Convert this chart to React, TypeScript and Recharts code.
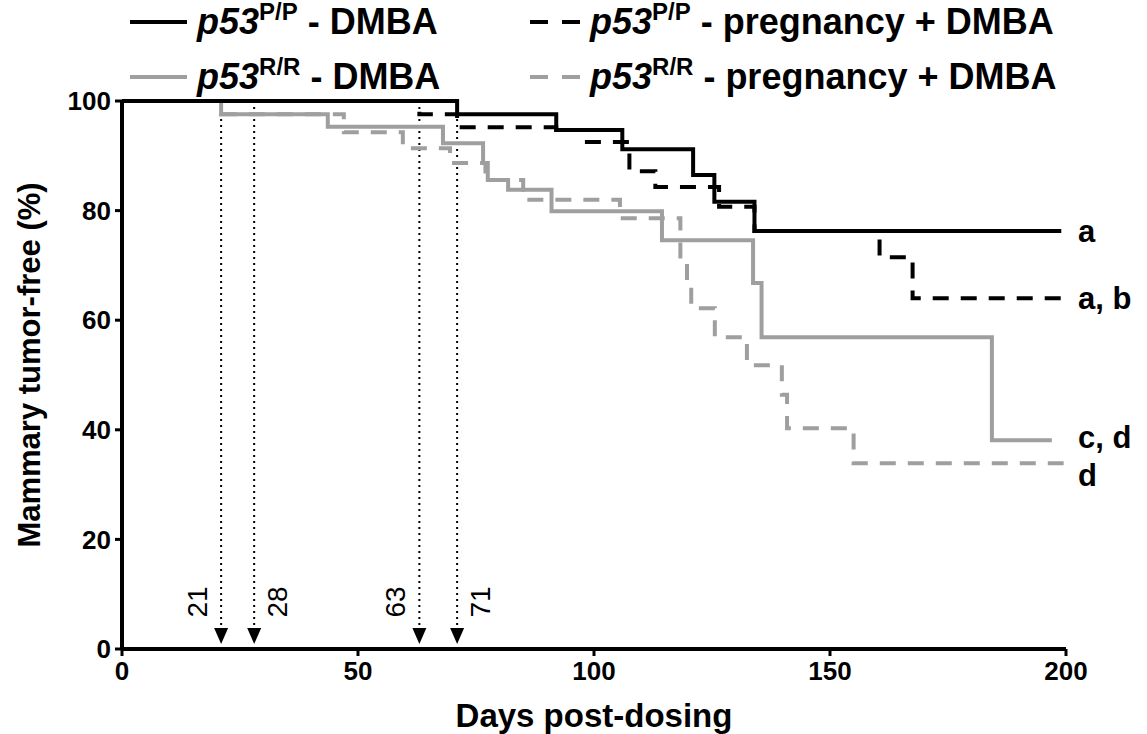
import { LineChart, Line, XAxis, YAxis, ReferenceLine, ReferenceDot, Label } from 'recharts'

// Kaplan-Meier steps (days post-dosing -> % tumor-free)
const PP_DMBA_DAYS = [0, 71, 92, 106, 121, 125.5, 134, 199]
const PP_DMBA_PCT = [100, 97.6, 94.7, 91.2, 86.5, 81.6, 76.3, 76.3]

const PP_PREG_DAYS = [0, 63, 71, 92, 98.5, 107.5, 113, 126.5, 134, 160.5, 167.5, 199]
const PP_PREG_PCT = [100, 97.6, 95.2, 94.7, 92.5, 87.2, 84.3, 80.7, 76.3, 71.5, 64.0, 64.0]

const RR_DMBA_DAYS = [0, 21, 43.6, 68, 76.5, 77.5, 81.8, 91, 114.4, 133.7, 135.5, 184.3, 197]
const RR_DMBA_PCT = [100, 97.6, 95.3, 92.3, 88.7, 85.6, 83.8, 79.9, 74.6, 66.8, 56.9, 38.1, 38.1]

const RR_PREG_DAYS = [0, 21, 47, 59.5, 69.5, 77, 85, 105.5, 118.3, 119.7, 120.6, 125.6, 132.4, 139.8, 140.9, 155, 199.5]
const RR_PREG_PCT = [100, 97.6, 94.3, 91.4, 88.7, 85.6, 82.0, 78.6, 70.4, 66.4, 62.2, 56.9, 51.8, 46.4, 40.3, 33.9, 33.9]

const ARROW_DAYS = [21, 28, 63, 71]
const ARROW_SIDES = ['left', 'right', 'left', 'right']

const X_TICKS = [0, 50, 100, 150, 200]
const Y_TICKS = [0, 20, 40, 60, 80, 100]

const BLACK = '#000'
const GREY = '#9f9f9f'
const FONT = '"Liberation Sans", Arial, Helvetica, sans-serif'
const DASH = '16 12'

const toPoints = (days: number[], pct: number[]) => days.map((d, i) => ({ day: d, pct: pct[i] }))

type Series = {
  id: string
  geno: string
  treat: string
  color: string
  dash?: string
  days: number[]
  pct: number[]
  tag: string
  tagDy: number
}

// drawing order: grey under black
const SERIES: Series[] = [
  { id: 'rrPreg', geno: 'R/R', treat: ' - pregnancy + DMBA', color: GREY, dash: DASH, days: RR_PREG_DAYS, pct: RR_PREG_PCT, tag: 'd', tagDy: 12 },
  { id: 'rrDmba', geno: 'R/R', treat: ' - DMBA', color: GREY, days: RR_DMBA_DAYS, pct: RR_DMBA_PCT, tag: 'c, d', tagDy: -3 },
  { id: 'ppPreg', geno: 'P/P', treat: ' - pregnancy + DMBA', color: BLACK, dash: DASH, days: PP_PREG_DAYS, pct: PP_PREG_PCT, tag: 'a, b', tagDy: 0 },
  { id: 'ppDmba', geno: 'P/P', treat: ' - DMBA', color: BLACK, days: PP_DMBA_DAYS, pct: PP_DMBA_PCT, tag: 'a', tagDy: 0 },
]

const LEGEND_ORDER = ['ppDmba', 'ppPreg', 'rrDmba', 'rrPreg']

function Arrow(props: any) {
  const { x1, y1, y2, text, side } = props
  const x = x1
  const tipY = Math.max(y1, y2) - 5
  const topY = Math.min(y1, y2)
  const headH = 16
  const headW = 7
  const tx = x + (side === 'left' ? -24 : 23)
  const ty = tipY - 42
  return (
    <g>
      <line x1={x} y1={topY} x2={x} y2={tipY - headH} stroke="#000" strokeWidth={2} strokeDasharray="2 4" />
      <path d={`M${x - headW},${tipY - headH} L${x + headW},${tipY - headH} L${x},${tipY} Z`} fill="#000" />
      <text
        x={tx}
        y={ty}
        transform={`rotate(-90 ${tx} ${ty})`}
        textAnchor="middle"
        dy="0.35em"
        fontFamily={FONT}
        fontSize={28}
        fill="#000"
      >
        {text}
      </text>
    </g>
  )
}

function LegendBox() {
  return (
    <div style={{ position: 'absolute', left: 0, top: 0, width: 1147, height: 100, fontFamily: FONT, fontWeight: 'bold', fontSize: 36, color: '#000' }}>
      {LEGEND_ORDER.map((id, i) => {
        const s = SERIES.find(x => x.id === id)!
        const col = i % 2
        const row = Math.floor(i / 2)
        const top = row ? 55 : 0
        const sampleX = col ? 530 : 130
        const sampleW = col ? 50 : 57
        const textX = col ? 590 : 197
        return (
          <div key={id}>
            <svg style={{ position: 'absolute', left: sampleX, top: top + 17 }} width={sampleW} height={10}>
              <line x1={0} y1={5} x2={sampleW} y2={5} stroke={s.color} strokeWidth={4} strokeDasharray={s.dash ? '18 14' : undefined} />
            </svg>
            <div style={{ position: 'absolute', left: textX, top, lineHeight: '44px', whiteSpace: 'nowrap' }}>
              <i>p53</i>
              <span style={{ fontSize: 24, position: 'relative', top: -14 }}>{s.geno}</span>
              <span>{s.treat}</span>
            </div>
          </div>
        )
      })}
    </div>
  )
}

const tickStyle = { fill: '#000', fontSize: 26, fontWeight: 'bold', fontFamily: FONT }

export default function App() {
  return (
    <div style={{ position: 'absolute', left: 0, top: 0, width: 1147, height: 734, background: '#fff' }}>
      <LineChart width={1147} height={734} margin={{ top: 101, right: 81, bottom: 0, left: 0 }}>
        <XAxis
          type="number"
          dataKey="day"
          domain={[0, 200]}
          ticks={X_TICKS}
          height={85}
          axisLine={{ stroke: '#000', strokeWidth: 4 }}
          tickLine={{ stroke: '#000', strokeWidth: 3 }}
          tickSize={7}
          tickMargin={6}
          tick={tickStyle}
        >
          <Label
            content={({ viewBox }: any) => (
              <text
                x={viewBox.x + viewBox.width / 2}
                y={viewBox.y + 78}
                textAnchor="middle"
                fontFamily={FONT}
                fontWeight="bold"
                fontSize={33}
                fill="#000"
              >
                Days post-dosing
              </text>
            )}
          />
        </XAxis>
        <YAxis
          type="number"
          domain={[0, 100]}
          ticks={Y_TICKS}
          width={122}
          axisLine={{ stroke: '#000', strokeWidth: 4 }}
          tickLine={{ stroke: '#000', strokeWidth: 3 }}
          tickSize={7}
          tickMargin={4}
          tick={tickStyle}
        >
          <Label
            content={({ viewBox }: any) => {
              const cx = viewBox.x + 29
              const cy = viewBox.y + viewBox.height / 2 - 10
              return (
                <text
                  x={cx}
                  y={cy}
                  transform={`rotate(-90 ${cx} ${cy})`}
                  textAnchor="middle"
                  dy="0.35em"
                  fontFamily={FONT}
                  fontWeight="bold"
                  fontSize={31}
                  fill="#000"
                >
                  Mammary tumor-free (%)
                </text>
              )
            }}
          />
        </YAxis>

        {ARROW_DAYS.map((d, i) => (
          <ReferenceLine
            key={d}
            segment={[{ x: d, y: 100 }, { x: d, y: 0 }]}
            stroke="#000"
            ifOverflow="visible"
            shape={(p: any) => <Arrow {...p} text={String(d)} side={ARROW_SIDES[i]} />}
          />
        ))}

        {SERIES.map(s => (
          <Line
            key={s.id}
            data={toPoints(s.days, s.pct)}
            dataKey="pct"
            type="stepAfter"
            stroke={s.color}
            strokeWidth={4}
            strokeDasharray={s.dash}
            dot={false}
            activeDot={false}
            isAnimationActive={false}
          />
        ))}

        {SERIES.map(s => (
          <ReferenceDot
            key={`tag-${s.id}`}
            x={200}
            y={s.pct[s.pct.length - 1]}
            r={0}
            ifOverflow="visible"
            shape={(p: any) => (
              <text
                x={p.cx + 12}
                y={p.cy + s.tagDy}
                dy="0.35em"
                fontFamily={FONT}
                fontWeight="bold"
                fontSize={31}
                fill="#000"
              >
                {s.tag}
              </text>
            )}
          />
        ))}
      </LineChart>
      <LegendBox />
    </div>
  )
}
